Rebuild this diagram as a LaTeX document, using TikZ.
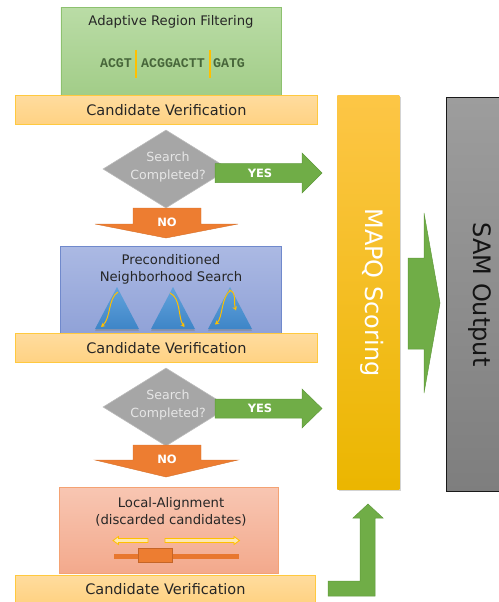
\documentclass[tikz,border=0pt]{standalone}
\usepackage{fontspec}
\setmainfont{DejaVu Sans}
\newfontfamily\seqfont{Liberation Mono}
\usetikzlibrary{shadows,arrows.meta,shapes.geometric}

% palette
\definecolor{filtTop}{HTML}{BADCA6}
\definecolor{filtBot}{HTML}{A2CD88}
\definecolor{filtLine}{HTML}{8DC16F}
\definecolor{verTop}{HTML}{FFDC9E}
\definecolor{verBot}{HTML}{FFD283}
\definecolor{verLine}{HTML}{FFC93F}
\definecolor{nbhTop}{HTML}{ABB9E3}
\definecolor{nbhBot}{HTML}{8FA1D7}
\definecolor{nbhLine}{HTML}{7089CC}
\definecolor{locTop}{HTML}{F8C6B2}
\definecolor{locBot}{HTML}{F3A98C}
\definecolor{locLine}{HTML}{F4A273}
\definecolor{gold}{HTML}{FFC000}
\definecolor{paleGold}{HTML}{FDE7B0}
\definecolor{mapqTop}{HTML}{FDC646}
\definecolor{mapqBot}{HTML}{EBB600}
\definecolor{samTop}{HTML}{9D9D9D}
\definecolor{samBot}{HTML}{7E7E7E}
\definecolor{okGreen}{HTML}{70AD47}
\definecolor{okGreenLine}{HTML}{5F9A3B}
\definecolor{noOrange}{HTML}{ED7D31}
\definecolor{barOrange}{HTML}{E8772E}
\definecolor{decGray}{HTML}{A6A6A6}
\definecolor{decText}{HTML}{E6E6E6}
\definecolor{triTop}{HTML}{62A3DC}
\definecolor{triBot}{HTML}{3E85C7}
\definecolor{seqGreen}{HTML}{47663A}
\definecolor{ink}{HTML}{262626}

\tikzset{
  box/.style={draw, line width=0.8pt, inner sep=0pt, anchor=north west},
  verify/.style={box, draw=verLine, top color=verTop, bottom color=verBot,
    minimum width=302pt, minimum height=29pt},
  verifytext/.style={font=\fontsize{14.5}{17}\selectfont, text=ink, inner sep=0pt},
  boxtitle/.style={font=\fontsize{13.2}{17}\selectfont, text=ink, align=center, inner sep=0pt},
  decision/.style={diamond, fill=decGray, draw=decGray!75!white, line width=0.6pt,
    minimum width=126pt, minimum height=78pt, inner sep=0pt},
  dectext/.style={font=\fontsize{12.6}{18}\selectfont, text=decText, align=center, inner sep=0pt},
  yesarrow/.style={fill=okGreen, draw=okGreenLine, line width=0.5pt},
  noarrow/.style={fill=noOrange, draw=noOrange!90!black, line width=0.4pt},
  flagtext/.style={font=\fontsize{11.5}{13}\selectfont\bfseries, text=white, inner sep=0pt},
  seq/.style={font=\fontsize{13.3}{15}\seqfont\bfseries, text=seqGreen, inner sep=0pt},
  cut/.style={draw=gold, line width=1.6pt},
  tree/.style={top color=triTop, bottom color=triBot, draw=none,
    drop shadow={opacity=0.45, shadow xshift=0pt, shadow yshift=-2pt}},
  walk/.style={draw=gold, line width=1pt, -{Stealth[length=4pt,width=4.5pt]}},
  extend/.style={fill=paleGold, draw=gold, line width=0.8pt},
  bigtext/.style={font=\fontsize{24}{28}\selectfont, rotate=-90, anchor=base, inner sep=0pt}
}

\begin{document}
\begin{tikzpicture}[x=1pt, y=-1pt]
\useasboundingbox (0,0) rectangle (498,602);

% ---------- stage 1: adaptive region filtering ----------
\node[box, draw=filtLine, top color=filtTop, bottom color=filtBot,
      minimum width=220pt, minimum height=88pt] (filter) at (60.5,7) {};
\node[boxtitle] (filtertitle) at (171,22) {Adaptive Region Filtering};
\node[seq] (seqA) at (116,63.5) {ACGT};
\node[seq] (seqB) at (173,63.5) {ACGGACTT};
\node[seq] (seqC) at (229,63.5) {GATG};
\coordinate (cutAtop) at (136,50); \coordinate (cutAbot) at (136,78);
\coordinate (cutBtop) at (210,50); \coordinate (cutBbot) at (210,78);
\draw[cut] (cutAtop) -- (cutAbot);
\draw[cut] (cutBtop) -- (cutBbot);

\node[verify] (verify1) at (15,95) {};
\node[verifytext] (verify1text) at (verify1.center) {Candidate Verification};

% ---------- decision 1 ----------
\node[decision] (dec1) at (166,169) {};
\node[dectext] (dec1text) at (168,167) {Search\\Completed?};
\path[yesarrow] (215,163.5) -- (302,163.5) -- (302,153) -- (322,173) -- (302,193)
  -- (302,182.5) -- (215,182.5) -- cycle;
\node[flagtext] (yes1) at (260,173) {YES};
\path[noarrow] (133,208) -- (201,208) -- (201,224) -- (238,224) -- (166,238)
  -- (95,224) -- (133,224) -- cycle;
\node[flagtext] (no1) at (167,222.5) {NO};

% ---------- stage 2: preconditioned neighborhood search ----------
\node[box, draw=nbhLine, top color=nbhTop, bottom color=nbhBot,
      minimum width=221pt, minimum height=90pt] (nbh) at (60,246) {};
\node[boxtitle] (nbhtitle) at (171,269.5) {Preconditioned\\Neighborhood Search};
\foreach \ax in {117,173,230}{
  \path[tree] (\ax,287) -- (\ax+22,329) -- (\ax-22,329) -- cycle;
}
\draw[walk] (118,292) .. controls (108,298) and (111,318) .. (101,327);
\draw[walk] (170,293) .. controls (181,298) and (178,318) .. (184.5,327);
\draw[walk] (231,290) .. controls (221,296) and (223,318) .. (215,324.5);
\draw[walk] (229,290) .. controls (238,293) and (233,302) .. (236,310.5);

\node[verify] (verify2) at (15,333) {};
\node[verifytext] (verify2text) at (verify2.center) {Candidate Verification};

% ---------- decision 2 ----------
\node[decision] (dec2) at (166,407) {};
\node[dectext] (dec2text) at (168,405) {Search\\Completed?};
\path[yesarrow] (215,399) -- (302,399) -- (302,389) -- (322,408.5) -- (302,428)
  -- (302,418) -- (215,418) -- cycle;
\node[flagtext] (yes2) at (260,408.5) {YES};
\path[noarrow] (133,445) -- (201,445) -- (201,460) -- (238,460) -- (166,477)
  -- (95,460) -- (133,460) -- cycle;
\node[flagtext] (no2) at (167,459) {NO};

% ---------- stage 3: local alignment ----------
\node[box, draw=locLine, top color=locTop, bottom color=locBot,
      minimum width=219pt, minimum height=86pt] (local) at (59,487) {};
\node[boxtitle] (localtitle) at (171,512) {Local-Alignment\\(discarded candidates)};
% extension directions
\path[extend] (148,538.5) -- (118.5,538.5) -- (118.5,536.5) -- (113,540.5)
  -- (118.5,544.5) -- (118.5,542.5) -- (148,542.5) -- cycle;
\path[extend] (165,538.5) -- (234,538.5) -- (234,536.5) -- (239.5,540.5)
  -- (234,544.5) -- (234,542.5) -- (165,542.5) -- cycle;
% read against the reference with its seed
\coordinate (readL) at (114,556); \coordinate (readR) at (239,556);
\draw[barOrange, line width=5pt] (readL) -- (readR);
\node[box, fill=noOrange, draw=barOrange!85!black, line width=0.5pt,
      minimum width=34pt, minimum height=14pt] (seed) at (138,548) {};

\node[verify, minimum width=300pt, minimum height=27pt] (verify3) at (15,575) {};
\node[verifytext] (verify3text) at (verify3.center) {Candidate Verification};

% hand-off from the last verification to scoring
\path[yesarrow] (328,581) -- (360,581) -- (360,518) -- (353,518) -- (368,504)
  -- (383,518) -- (375,518) -- (375,596) -- (328,596) -- cycle;

% ---------- MAPQ scoring ----------
\node[box, draw=none, top color=mapqTop, middle color=gold, bottom color=mapqBot,
      minimum width=62pt, minimum height=394pt,
      drop shadow={opacity=0.35, shadow xshift=1.5pt, shadow yshift=-2pt}] (mapq) at (337,95) {};
\node[bigtext, text=white] (mapqtext) at (365,292.5) {MAPQ Scoring};

% scoring to output
\path[yesarrow] (408,258) -- (424,258) -- (424,213) -- (440,303) -- (424,393)
  -- (424,349) -- (408,349) -- cycle;

% ---------- SAM output ----------
\node[box, draw=black!90, line width=1.2pt, top color=samTop, bottom color=samBot,
      minimum width=58pt, minimum height=394pt] (sam) at (446,97) {};
\node[bigtext, text=black!92] (samtext) at (473,294.5) {SAM Output};

\end{tikzpicture}
\end{document}
